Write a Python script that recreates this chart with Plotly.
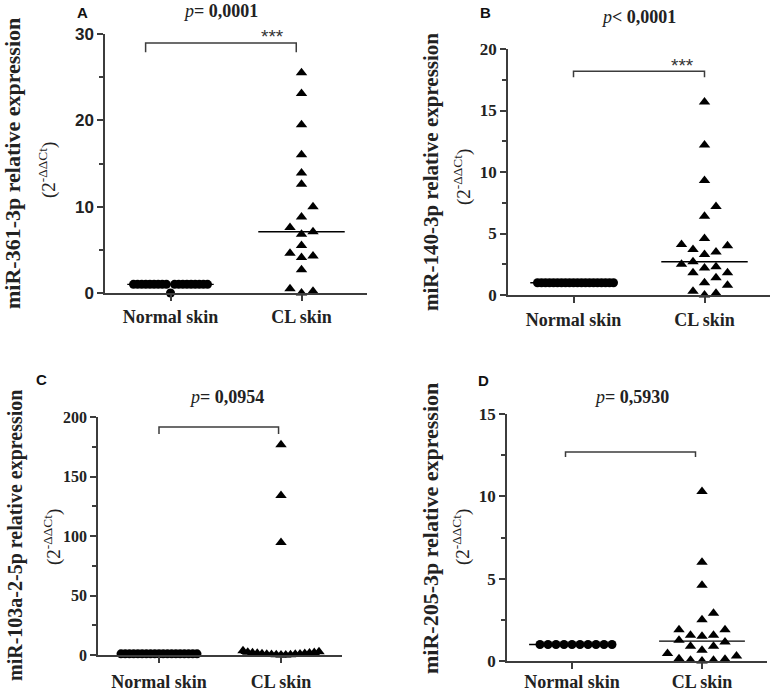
import numpy as np
import plotly.graph_objects as go

W, H = 773, 695

groups = ["Normal skin", "CL skin"]

# miR-361-3p (A)
a_normal = [1.0, 1.0, 1.0, 1.0, 1.0, 1.0, 1.0, 1.0, 1.0, 1.0, 1.0, 1.0, 1.0, 1.0, 1.0, 1.0, 1.0, 1.0, 0.0]
a_cl = [25.5, 23.1, 19.5, 16.0, 13.9, 12.6, 10.0, 8.8, 7.6, 7.1, 6.8, 5.5, 4.6, 4.3, 4.1, 2.7, 0.5, 0.2, 0.0]

# miR-140-3p (B)
b_normal = [1.0, 1.0, 1.0, 1.0, 1.0, 1.0, 1.0, 1.0, 1.0, 1.0, 1.0, 1.0, 1.0, 1.0, 1.0, 1.0, 1.0, 1.0, 1.0, 1.0]
b_cl = [15.7, 12.2, 9.3, 7.2, 6.4, 4.6, 4.1, 4.0, 3.7, 3.5, 3.3, 2.7, 2.5, 2.3, 2.2, 1.8, 1.8, 1.4, 1.0, 0.8, 0.3, 0.15, 0.0]

# miR-103a-2-5p (C)
c_normal = [1.0, 1.0, 1.0, 1.0, 1.0, 1.0, 1.0, 1.0, 1.0, 1.0, 1.0, 1.0, 1.0, 1.0, 1.0, 1.0, 1.0, 1.0, 1.0]
c_cl = [176.7, 134.0, 94.5, 3.5, 2.8, 2.4, 2.0, 1.8, 1.6, 1.5, 1.3, 1.1, 0.9, 0.7, 0.6, 0.4, 0.3, 0.2, 0.1, 0.0]

# miR-205-3p (D)
d_normal = [1.0, 1.0, 1.0, 1.0, 1.0, 1.0, 1.0, 1.0, 1.0, 1.0]
d_cl = [10.3, 6.0, 4.6, 2.9, 2.5, 1.9, 1.9, 1.56, 1.5, 1.56, 1.26, 1.15, 0.9, 0.9, 0.65, 0.45, 0.3, 0.14, 0.04, 0.0, 0.04, 0.1]

mirnas = ["miR-361-3p", "miR-140-3p", "miR-103a-2-5p", "miR-205-3p"]
p_texts = ["<i>p</i><b>= 0,0001</b>", "<i>p</i><b>< 0,0001</b>", "<i>p</i><b>= 0,0954</b>", "<i>p</i><b>= 0,5930</b>"]
stars = ["***", "***", "", ""]
letters = ["A", "B", "C", "D"]

# layout of each panel in pixels (axis box left, right, top, bottom) and styling
panels = [
    dict(data=(a_normal, a_cl), box=(105, 367, 34, 293), ymax=30, dtick=10, tickfont="Liberation Sans",
         tfs=17, letter=(82, 13), p=(220, 11), star=(272, 36), br=(-0.19, 0.96, 28.95, 27.9),
         t1=(13, 164), t1s=22, t2=(47, 170), stand=1, half=37),
    dict(data=(b_normal, b_cl), box=(508, 770, 49, 295), ymax=20, dtick=5, tickfont="Liberation Serif",
         tfs=17, letter=(485, 13), p=(638, 17), star=(682, 66), br=(0.0, 1.0, 18.2, 17.7),
         t1=(431, 172), t1s=21, t2=(462, 177), stand=2, half=40),
    dict(data=(c_normal, c_cl), box=(98, 342, 417, 655), ymax=200, dtick=50, tickfont="Liberation Serif",
         tfs=16, letter=(41, 379), p=(226, 397), star=None, br=(0.0, 0.98, 191.6, 185.7),
         t1=(15, 536), t1s=20, t2=(52, 537), stand=4, half=38),
    dict(data=(d_normal, d_cl), box=(507, 767, 414, 661), ymax=15, dtick=5, tickfont="Liberation Serif",
         tfs=17, letter=(483, 380), p=(631, 397), star=None, br=(-0.05, 0.95, 12.69, 12.39),
         t1=(430, 529), t1s=22, t2=(461, 537), stand=-2, half=40),
]

AX = "#3c3c3c"


def swarm(vals, ypx, thr=10.5):
    vals = np.asarray(vals, float)
    slots = np.zeros(len(vals), int)
    placed = []
    cands = [0]
    for s in range(1, 40):
        cands += [s, -s]
    for i in np.argsort(vals, kind="stable"):
        for c in cands:
            if all(not (sl == c and abs(vals[i] - vals[j]) * ypx < thr) for j, sl in placed):
                break
        slots[i] = c
        placed.append((i, c))
    return slots


def paper(x, y):
    return x / W, 1 - y / H


fig = go.Figure()
annotations = []
shapes = []

for k, pn in enumerate(panels):
    n = k + 1
    xa, ya = ("x", "y") if n == 1 else (f"x{n}", f"y{n}")
    l, r, t, b = pn["box"]
    xpx = (r - l) / 2.0
    ypx = (b - t) / pn["ymax"]

    for gi, vals in enumerate(pn["data"]):
        slots = swarm(vals, ypx)
        m = max(abs(slots).max(), 1)
        step = min(11.5, pn["half"] / m)
        xs = gi + slots * step / xpx
        sym = "circle" if gi == 0 else "triangle-up"
        size = 9 if gi == 0 else 10
        med = float(np.median(vals))
        fig.add_trace(go.Scatter(x=[gi - 0.33, gi + 0.33], y=[med, med], mode="lines",
                                 line=dict(color="black", width=1.4), xaxis=xa, yaxis=ya,
                                 hoverinfo="skip", cliponaxis=False))
        fig.add_trace(go.Scatter(x=xs, y=vals, mode="markers",
                                 marker=dict(symbol=sym, size=size, color="black"),
                                 xaxis=xa, yaxis=ya, cliponaxis=False))

    x0, y0 = paper(l, b)
    x1, y1 = paper(r, t)
    common = dict(showline=True, linecolor=AX, linewidth=1.5, ticks="outside", tickcolor=AX,
                  tickwidth=1.5, showgrid=False, zeroline=False, automargin=False)
    fig.update_layout(**{
        ("xaxis" if n == 1 else f"xaxis{n}"): dict(
            domain=[x0, x1], range=[-0.5, 1.5], tickvals=[0, 1], ticktext=groups, ticklen=6,
            ticklabelstandoff=pn["stand"],
            tickfont=dict(family="Liberation Serif", size=18, color="#222", weight="bold"),
            anchor=ya, **common),
        ("yaxis" if n == 1 else f"yaxis{n}"): dict(
            domain=[y0, y1], range=[0, pn["ymax"]], dtick=pn["dtick"], ticklen=6,
            minor=dict(dtick=pn["dtick"] / 2, ticks="outside", ticklen=4, tickcolor=AX, tickwidth=1.5),
            tickfont=dict(family=pn["tickfont"], size=pn["tfs"], color="#222", weight="bold"),
            anchor=xa, **common),
    })

    bx0, bx1, byt, byd = pn["br"]
    shapes.append(dict(type="path", xref=xa, yref=ya,
                       path=f"M {bx0},{byd} L {bx0},{byt} L {bx1},{byt} L {bx1},{byd}",
                       line=dict(color=AX, width=1.5)))

    def note(pos, text, font, angle=0):
        ax_, ay_ = paper(*pos)
        annotations.append(dict(x=ax_, y=ay_, xref="paper", yref="paper", text=text, textangle=angle,
                                xanchor="center", yanchor="middle", showarrow=False, font=font))

    note(pn["letter"], "<b>" + letters[k] + "</b>", dict(family="Liberation Sans", size=15, color="#111"))
    note(pn["p"], p_texts[k], dict(family="Liberation Serif", size=18, color="#222"))
    if pn["star"]:
        note(pn["star"], stars[k], dict(family="Liberation Sans", size=19, color="#333"))
    note(pn["t1"], "<b>" + mirnas[k] + " relative expression</b>",
         dict(family="Liberation Serif", size=pn["t1s"], color="#222"), -90)
    note(pn["t2"], "(2<sup>-ΔΔCt</sup>)", dict(family="Liberation Serif", size=19, color="#222"), -90)

fig.update_layout(width=W, height=H, margin=dict(l=0, r=0, t=0, b=0), showlegend=False,
                  plot_bgcolor="white", paper_bgcolor="white",
                  annotations=annotations, shapes=shapes)

fig.write_html("out.html", config={"displayModeBar": False},
               post_script="document.body.style.margin='0';")
